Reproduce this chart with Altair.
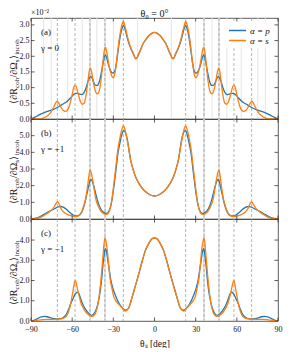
import altair as alt
import pandas as pd

FONT = "Liberation Serif"
BLUE = "#1f77b4"
ORANGE = "#ff7f0e"
AX = "#333333"

# ---------------- panel (a): gamma = 0  (left half, mirrored) ----------------
A_S_THETA = [-90, -85, -81, -78, -75.5, -73, -71.8, -71, -70, -68.5, -66.5, -65, -63.5, -62, -60.5,
             -59, -58, -57, -55.5, -54, -52.6, -51.3, -50, -48.5, -47.4, -46.8, -46, -44.5, -43,
             -41.8, -40.5, -39, -37.6, -36.5, -35.9, -35.2, -34.2, -33, -31.5, -30.2, -29, -27.6,
             -26.6, -25.5, -24.2, -23.2, -22.6, -21.7, -20.5, -19.3, -17.5, -15.7, -13.5, -10.8,
             -8.4, -6, -4.7, -2, 0]
A_S_VAL = [0, 0, 0.03, 0.1, 0.22, 0.42, 0.53, 0.56, 0.52, 0.40, 0.27, 0.24, 0.28, 0.42, 0.68,
           0.98, 1.08, 1.03, 0.78, 0.56, 0.47, 0.50, 0.72, 1.20, 1.56, 1.62, 1.53, 1.15, 0.88,
           0.80, 0.87, 1.22, 1.80, 2.20, 2.28, 2.22, 1.98, 1.68, 1.42, 1.31, 1.42, 1.85,
           2.23, 2.60, 2.92, 3.08, 3.11, 2.98, 2.78, 2.55, 2.30, 2.12, 1.92, 2.14,
           2.39, 2.55, 2.63, 2.73, 2.76]
A_P_THETA = [-90, -87.5, -85, -82, -78, -74, -70, -67, -64, -61, -59, -57.5, -56, -54.5, -53,
             -51.5, -50, -48.5, -47.2, -46.4, -45.3, -44, -42.8, -41.6, -40.3, -39, -37.6,
             -36.5, -35.9, -35.2, -34.2, -33, -31.5, -30.2, -29, -27.6, -26.6, -25.5, -24.2,
             -23.2, -22.5, -21.6, -20.5, -19.3, -17.5, -15.7, -13.5, -10.8, -8.4, -6, -4.7, -2, 0]
A_P_VAL = [0, 0.05, 0.11, 0.17, 0.24, 0.30, 0.39, 0.47, 0.55, 0.68, 0.78, 0.82, 0.82, 0.79, 0.78,
           0.83, 0.98, 1.20, 1.33, 1.35, 1.28, 1.14, 1.07, 1.07, 1.18, 1.42, 1.75,
           1.98, 2.04, 2.00, 1.84, 1.65, 1.50, 1.46, 1.52, 1.82, 2.15, 2.50, 2.80,
           2.95, 2.98, 2.88, 2.70, 2.50, 2.27, 2.10, 1.92, 2.14, 2.39, 2.55, 2.63, 2.73, 2.76]

# ---------------- panel (b): gamma = +1 ----------------
B_S_THETA = [-90, -85, -81.7, -78.5, -76, -73.2, -71.8, -70.8, -69.8, -68.4, -66, -63.5, -61,
             -58.5, -57, -55, -53, -51.5, -50, -48.8, -47.6, -47, -46.2, -45.3, -44, -42.9, -41,
             -39.3, -37.5, -35.5, -34.5, -33, -32, -30.5, -29.2, -28.2, -26.8, -25.5, -24.2,
             -23.2, -22.6, -21.8, -20.6, -19.2, -17.4, -15.5, -13.8, -11.5, -8.9, -6, -3, 0]
B_S_VAL = [0, 0.05, 0.16, 0.32, 0.46, 0.72, 0.92, 1.02, 0.95, 0.66, 0.40, 0.28, 0.20,
           0.15, 0.14, 0.22, 0.45, 0.80, 1.30, 1.95, 2.70, 2.94, 2.80, 2.44, 1.80, 1.24, 0.78,
           0.50, 0.35, 0.28, 0.29, 0.45, 0.74, 1.50, 2.40, 3.10, 4.10, 4.74, 5.25,
           5.52, 5.58, 5.45, 5.04, 4.40, 3.54, 2.95, 2.54, 2.15, 1.84, 1.60, 1.44, 1.38]
B_P_THETA = [-90, -85, -81.7, -77, -73.2, -70.5, -68.5, -66.5, -64.5, -62.4, -60, -57.5, -55.5,
             -53.5, -52, -50.5, -49, -47.5, -46.5, -45.5, -44.1, -42.5, -40.5, -38.5, -36.5,
             -35.2, -34, -32.8, -32, -30.5, -29.2, -28.2, -26.8, -25.5, -24, -22.8, -22.2,
             -21.2, -19.8, -18.5, -17.4, -15.5, -13.8, -11.5, -8.9, -6, -3, 0]
B_P_VAL = [0, 0.08, 0.22, 0.44, 0.60, 0.72, 0.75, 0.71, 0.60, 0.44, 0.28, 0.18, 0.20,
           0.35, 0.62, 1.05, 1.60, 2.15, 2.38, 2.30, 1.94, 1.40, 0.84, 0.52, 0.37,
           0.34, 0.38, 0.55, 0.74, 1.40, 2.20, 2.85, 3.85, 4.44, 5.00, 5.28, 5.30,
           5.18, 4.78, 4.10, 3.54, 2.95, 2.54, 2.15, 1.84, 1.60, 1.44, 1.38]

# ---------------- panel (c): gamma = -1 ----------------
C_S_THETA = [-90, -86, -81.7, -76, -71, -67, -65, -63.5, -62.2, -61.1, -60.2, -59.4, -58.5,
             -57.9, -57.2, -56.2, -55, -53.8, -52.2, -50.6, -48.5, -46.5, -45.3, -44, -42.8,
             -41.7, -40.5, -39.3, -38.4, -37.6, -36.8, -36.1, -35.4, -34.5, -33.5, -32.5, -31,
             -29.6, -28, -26, -23.5, -21.2, -19, -16.3, -14, -11.4, -9, -6.6, -4, -1.7, 0]
C_S_VAL = [0, 0.03, 0.07, 0.08, 0.09, 0.12, 0.18, 0.32, 0.55, 0.86, 1.18, 1.48, 1.85,
           2.01, 1.90, 1.60, 1.25, 0.94, 0.68, 0.49, 0.33, 0.24, 0.23, 0.28, 0.42,
           0.69, 1.15, 1.84, 2.50, 3.16, 3.80, 4.11, 3.95, 3.57, 2.85, 2.17, 1.60,
           1.18, 0.98, 0.82, 0.64, 0.49, 0.62, 1.18, 1.72, 2.34, 2.95, 3.49, 3.85, 4.07, 4.10]
C_P_THETA = [-90, -87.5, -85.3, -82.5, -80.5, -78, -75.7, -73, -70.8, -68, -66, -64, -62.4, -61,
             -59.4, -58, -57, -56.2, -55.3, -53.8, -52.2, -50.6, -48.5, -45.8, -43.5, -41.7,
             -40.5, -39.3, -38.4, -37.6, -36.6, -35.9, -35.2, -34.2, -33, -32, -30.5, -28.8,
             -27.3, -26, -23.5, -21.2, -19, -16.3, -14, -11.4, -9, -6.6, -4, -1.7, 0]
C_P_VAL = [0, 0.04, 0.12, 0.20, 0.23, 0.21, 0.16, 0.12, 0.10, 0.12, 0.20, 0.36, 0.61, 0.86,
           1.10, 1.30, 1.40, 1.43, 1.38, 1.10, 0.82, 0.61, 0.42, 0.28, 0.42, 0.73,
           1.10, 1.60, 2.15, 2.75, 3.30, 3.57, 3.50, 3.08, 2.55, 2.09, 1.65, 1.32,
           1.07, 0.89, 0.66, 0.53, 0.62, 1.18, 1.72, 2.34, 2.95, 3.49, 3.85, 4.07, 4.10]

# reference angles (deg, mirrored about 0)
DASHED = [22.7, 36.1, 47.0, 57.9, 70.8]
LIGHT_RA = [36.1, 47.0]
LIGHT_A = [12.3, 29.9, 42.0, 52.7, 63.2, 75.3, 80.8]

X_TICKS = [-90, -60, -30, 0, 30, 60, 90]
A_YTICKS = [0, 0.5, 1.0, 1.5, 2.0, 2.5, 3.0]
B_YTICKS = [0, 1, 2, 3, 4, 5]
C_YTICKS = [0, 1, 2, 3, 4]

W = 247
ONE = pd.DataFrame({"k": [0]})


def sym(v):
    return [-x for x in v] + list(v)


def mirror(th, val):
    t = list(th) + [-x for x in reversed(th[:-1])]
    v = list(val) + list(reversed(val[:-1]))
    return t, v


def series_df(tp, vp, ts, vs):
    t1, v1 = mirror(tp, vp)
    t2, v2 = mirror(ts, vs)
    return pd.DataFrame({"theta": t1 + t2, "value": v1 + v2,
                         "pol": ["p"] * len(t1) + ["s"] * len(t2)})


def txt(s, x, y, size, align="left", baseline="middle", angle=0, style="normal"):
    return alt.Chart(ONE).mark_text(
        text=s, align=align, baseline=baseline, angle=angle, fontSize=size,
        font=FONT, fontStyle=style, color="#111111"
    ).encode(x=alt.value(x), y=alt.value(y))


def ytitle(h):
    pieces = [("⟨∂R", 10, 0, 15.8), ("coh", 7, 2.8, 10.4), ("/∂Ω", 10, 0, 15.4),
              ("s", 7, 2.8, 3.1), ("⟩", 10, 0, 4.2), ("incoh", 7, 2.8, 15.6)]
    total = sum(p[3] for p in pieces)
    y0 = h / 2 + total / 2 + 3
    out = []
    for s, fs, dx, w in pieces:
        out.append(txt(s, -17.2 + dx, y0, fs, align="left", baseline="middle", angle=270))
        y0 -= w
    return out


def panel(df, ymax, yticks, h, tag, gamma, light, show_x=False, legend=False, top=False):
    xs = alt.Scale(domain=[-90, 90], nice=False, zero=False)
    ys = alt.Scale(domain=[0, ymax], nice=False)
    if show_x:
        xaxis = alt.Axis(values=X_TICKS, ticks=False, domain=False, grid=False,
                         labelExpr="replace(datum.label, '-', '−')", labelFlush=False,
                         labelFontSize=8, labelPadding=4, title="θₛ [deg]",
                         titleFontSize=9.5, titlePadding=5, titleFontWeight="normal",
                         minExtent=0)
    else:
        xaxis = None
    yaxis = alt.Axis(values=yticks, format=".1f", ticks=False, domain=False, grid=False,
                     labelFontSize=8, labelPadding=2, title=None, labelFlush=False,
                     minExtent=0)

    def X(f):
        return alt.X(f, scale=xs, axis=xaxis)

    def Y(f):
        return alt.Y(f, scale=ys, axis=yaxis)

    layers = []
    if light:
        layers.append(alt.Chart(pd.DataFrame({"t": sym(light)})).mark_rule(
            color="#e4e4e4", strokeWidth=1).encode(x=X("t:Q")))
    layers.append(alt.Chart(pd.DataFrame({"t": sym(LIGHT_RA)})).mark_rule(
        color="#e4e4e4", strokeWidth=2).encode(x=X("t:Q")))
    layers.append(alt.Chart(pd.DataFrame({"t": sym(DASHED)})).mark_rule(
        color="#a0a0a0", strokeWidth=0.8, strokeDash=[3, 2]).encode(x=X("t:Q")))
    if legend:
        layers.append(alt.Chart(ONE).mark_rect(color="white", opacity=0.9).encode(
            x=alt.value(191), x2=alt.value(246), y=alt.value(3), y2=alt.value(30)))

    layers.append(alt.Chart(df).mark_line(strokeWidth=1.3, interpolate="monotone").encode(
        x=X("theta:Q"),
        y=Y("value:Q"),
        color=alt.Color("pol:N", scale=alt.Scale(domain=["p", "s"], range=[BLUE, ORANGE]),
                        legend=None),
    ))

    xt = pd.DataFrame({"t": X_TICKS})
    yt = pd.DataFrame({"v": yticks})
    tl = 3.5
    layers.append(alt.Chart(xt).mark_rule(color=AX, strokeWidth=0.8).encode(
        x=X("t:Q"), y=alt.value(h), y2=alt.value(h - tl)))
    layers.append(alt.Chart(xt).mark_rule(color=AX, strokeWidth=0.8).encode(
        x=X("t:Q"), y=alt.value(0), y2=alt.value(tl)))
    layers.append(alt.Chart(yt).mark_rule(color=AX, strokeWidth=0.8).encode(
        y=Y("v:Q"), x=alt.value(0), x2=alt.value(tl)))
    layers.append(alt.Chart(yt).mark_rule(color=AX, strokeWidth=0.8).encode(
        y=Y("v:Q"), x=alt.value(W), x2=alt.value(W - tl)))

    layers.append(txt(tag, 10, 14, 9))
    layers.append(txt(gamma, 10, 30, 9))
    layers += ytitle(h)

    if legend:
        layers.append(alt.Chart(ONE).mark_rule(color=BLUE, strokeWidth=1.5).encode(
            x=alt.value(198), x2=alt.value(215), y=alt.value(12.5)))
        layers.append(alt.Chart(ONE).mark_rule(color=ORANGE, strokeWidth=1.5).encode(
            x=alt.value(198), x2=alt.value(215), y=alt.value(22.5)))
        layers.append(txt("α = p", 219, 12.5, 9, style="italic"))
        layers.append(txt("α = s", 219, 22.5, 9, style="italic"))
    if top:
        layers.append(txt("×10⁻²", 0, -9, 8, baseline="top"))
        layers.append(txt("θ₀ = 0°", W / 2, -9, 10, align="center", baseline="top"))

    return alt.layer(*layers).properties(width=W, height=h)


df_a = series_df(A_P_THETA, A_P_VAL, A_S_THETA, A_S_VAL)
df_b = series_df(B_P_THETA, B_P_VAL, B_S_THETA, B_S_VAL)
df_c = series_df(C_P_THETA, C_P_VAL, C_S_THETA, C_S_VAL)

pa = panel(df_a, 3.22, A_YTICKS, 101, "(a)", "γ = 0", LIGHT_A, legend=True, top=True)
pb = panel(df_b, 6.0, B_YTICKS, 100, "(b)", "γ = +1", None)
pc = panel(df_c, 5.04, C_YTICKS, 102, "(c)", "γ = −1", None, show_x=True)

chart = alt.vconcat(pa, pb, pc, spacing=0, bounds="flush").properties(padding=0).configure_view(
    stroke=AX, strokeWidth=0.8
).configure_axis(labelFont=FONT, titleFont=FONT, labelColor="#111111", titleColor="#111111")

chart.save("out.html", embed_options={"renderer": "svg", "actions": False})
